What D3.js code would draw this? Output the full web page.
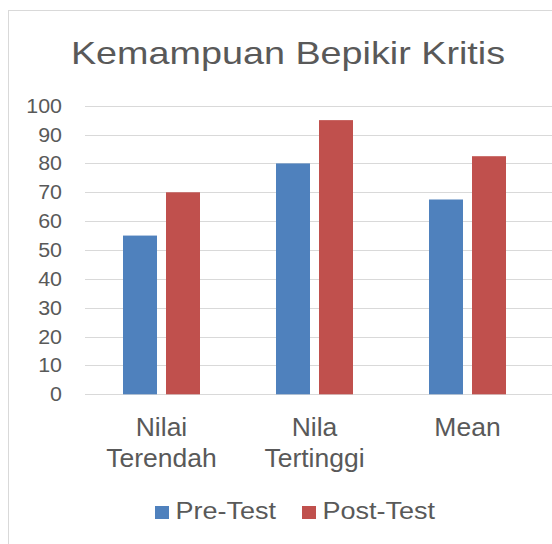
<!DOCTYPE html>
<html>
<head>
<meta charset="utf-8">
<script src="https://cdn.jsdelivr.net/npm/d3@7"></script>
<style>
  body { margin: 0; background: #fff; }
  text { font-family: "Liberation Sans", Arial, sans-serif; fill: #595959; }
</style>
</head>
<body>
<div id="chart"></div>
<script>
var categories = [["Nilai", "Terendah"], ["Nila", "Tertinggi"], ["Mean"]];
var seriesNames = ["Pre-Test", "Post-Test"];
var preTest = [55, 80, 67.5];
var postTest = [70, 95, 82.5];
var yTicks = [0, 10, 20, 30, 40, 50, 60, 70, 80, 90, 100];
var colors = ["#4f81bd", "#c0504d"];

var W = 552, H = 544;
var svg = d3.select("#chart").append("svg")
  .attr("width", W).attr("height", H);

// the picture text is a bit wider than Arial, so stretch it
function stretched(sel, x, y, sx) {
  return sel.attr("transform", "translate(" + x + "," + y + ") scale(" + sx + ",1)");
}

// chart border
svg.append("rect")
  .attr("x", 8.5).attr("y", 10.5)
  .attr("width", W).attr("height", H)
  .attr("fill", "none").attr("stroke", "#d9d9d9");

var x0 = d3.scaleBand().domain(d3.range(categories.length)).range([85, 544]);
var y = d3.scaleLinear().domain([0, 100]).range([394.3, 105.7]);

// gridlines
svg.append("g").selectAll("line")
  .data(yTicks).enter().append("line")
  .attr("x1", 85).attr("x2", W)
  .attr("y1", function(d){ return Math.round(y(d)) + 0.5; })
  .attr("y2", function(d){ return Math.round(y(d)) + 0.5; })
  .attr("stroke", "#d9d9d9").attr("stroke-width", 1);

// y labels
svg.append("g").selectAll("text")
  .data(yTicks).enter().append("text")
  .each(function(d){ stretched(d3.select(this), 62, y(d), 1.07); })
  .attr("dy", "0.35em")
  .attr("text-anchor", "end")
  .style("font-size", "20px")
  .text(function(d){ return d; });

var barW = 34, gap = 9;
var data = [preTest, postTest];
data.forEach(function(vals, s) {
  svg.append("g").selectAll("rect")
    .data(vals).enter().append("rect")
    .attr("x", function(d, i){
      var c = x0(i) + x0.bandwidth() / 2;
      return s === 0 ? c - gap / 2 - barW : c + gap / 2;
    })
    .attr("width", barW)
    .attr("y", function(d){ return y(d); })
    .attr("height", function(d){ return y(0) - y(d); })
    .attr("fill", colors[s]);
});

// category labels
var cat = svg.append("g").selectAll("text")
  .data(categories).enter().append("text")
  .attr("text-anchor", "middle")
  .each(function(d, i){ stretched(d3.select(this), x0(i) + x0.bandwidth() / 2, 436, 1.06); })
  .style("font-size", "25px");
cat.selectAll("tspan").data(function(d){ return d; }).enter().append("tspan")
  .attr("x", 0)
  .attr("dy", function(d, i){ return i === 0 ? 0 : 31; })
  .text(function(d){ return d; });

// title
stretched(svg.append("text"), 288, 64, 1.18)
  .attr("text-anchor", "middle")
  .style("font-size", "32px")
  .text("Kemampuan Bepikir Kritis");

// legend
var legX = [155, 302];
var leg = svg.append("g").selectAll("g")
  .data(seriesNames).enter().append("g")
  .attr("transform", function(d, i){ return "translate(" + legX[i] + ",0)"; });
leg.append("rect")
  .attr("x", 0).attr("y", 506).attr("width", 14).attr("height", 13)
  .attr("fill", function(d, i){ return colors[i]; });
leg.append("text")
  .each(function(){ stretched(d3.select(this), 20.5, 519, 1.15); })
  .style("font-size", "23.5px")
  .text(function(d){ return d; });
</script>
</body>
</html>
